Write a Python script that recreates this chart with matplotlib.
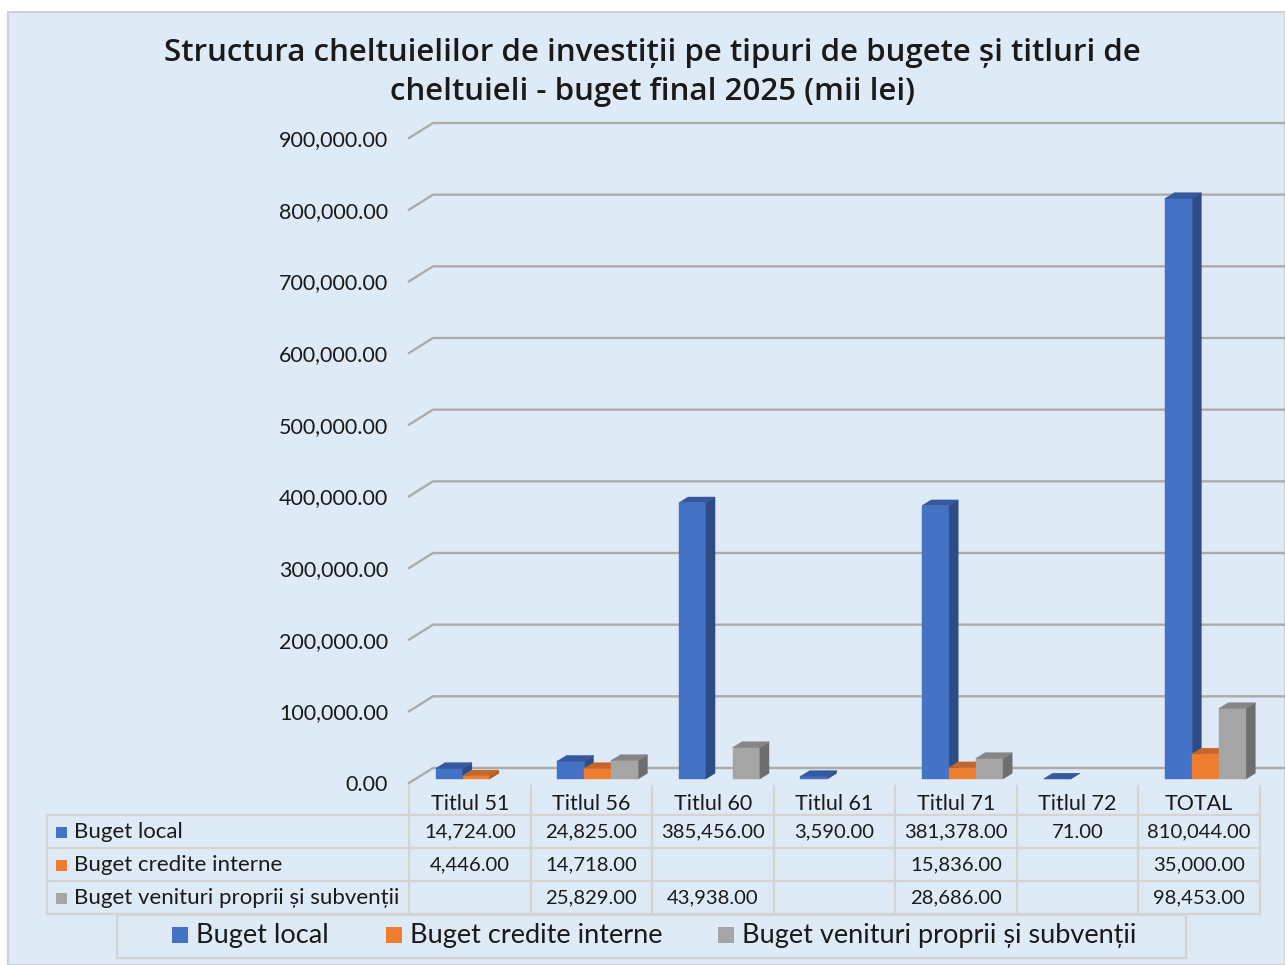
import matplotlib
matplotlib.use("Agg")
import matplotlib.pyplot as plt
from matplotlib import transforms
from matplotlib.patches import Polygon, Rectangle
from matplotlib.lines import Line2D
from matplotlib.ticker import FuncFormatter

plt.rcParams['font.family'] = ['Lato', 'DejaVu Sans']

# data (mii lei)
categories = ["Titlul 51", "Titlul 56", "Titlul 60", "Titlul 61", "Titlul 71", "Titlul 72", "TOTAL"]
series_names = ["Buget local", "Buget credite interne", "Buget venituri proprii și subvenții"]
buget_local = [14724.00, 24825.00, 385456.00, 3590.00, 381378.00, 71.00, 810044.00]
buget_credite_interne = [4446.00, 14718.00, None, None, 15836.00, None, 35000.00]
buget_venituri_proprii = [None, 25829.00, 43938.00, None, 28686.00, None, 98453.00]
y_ticks = [0, 100000, 200000, 300000, 400000, 500000, 600000, 700000, 800000, 900000]

title_lines = ["Structura cheltuielilor de investiții pe tipuri de bugete și titluri de",
               "cheltuieli - buget final 2025 (mii lei)"]

series = [buget_local, buget_credite_interne, buget_venituri_proprii]
# front, side, top
colors = [("#4472C4", "#2C4C86", "#34599E"),
          ("#ED7D31", "#B35A1E", "#C7662A"),
          ("#A5A5A5", "#6E6E6E", "#858585")]

W, H = 1285, 965
BG = "#DEEAF6"
GRID = "#ABABAB"
LINE = "#D4D4D4"
TXT = "#1a1a1a"
DEPTH = (24.0, 15.0)      # pixels, back wall offset
BAR_D = (0.27, 0.65)      # bar front / back depth fractions
BAR_W = 0.222


def fx(x):
    return x / W


def fy(y):
    return 1 - y / H


fig = plt.figure(figsize=(W / 100, H / 100), dpi=100)
fig.patch.set_facecolor("white")
fig.add_artist(Rectangle((fx(8), 0), 1 - fx(8), fy(12), transform=fig.transFigure,
                         facecolor=BG, edgecolor="#D0D0D0", linewidth=1.5, zorder=0))

for k, line in enumerate(title_lines):
    fig.text(fx(652), fy(53 + 39 * k), line, ha="center", va="center",
             fontsize=22.5, fontweight="semibold", family=["Open Sans", "DejaVu Sans"], color=TXT)

ax = fig.add_axes([fx(409), fy(783), (1260 - 409) / W, (783 - 138) / H])
ax.set_xlim(-0.5, len(categories) - 0.5)
ax.set_ylim(0, 900000)
ax.set_autoscale_on(False)
ax.patch.set_visible(False)
for s in ax.spines.values():
    s.set_visible(False)
ax.set_xticks([])
ax.set_yticks(y_ticks)
ax.yaxis.set_major_formatter(FuncFormatter(lambda v, p: f"{v:,.2f}"))
ax.tick_params(axis="y", length=0, pad=15, labelsize=15.5, labelcolor=TXT)

ident = transforms.IdentityTransform()


def to_disp(x, y, d):
    px, py = ax.transData.transform((x, y))
    return (px + d * DEPTH[0], py + d * DEPTH[1])


# back wall gridlines with the diagonal floor/wall edge
x_lo, x_hi = ax.get_xlim()
for v in y_ticks:
    pts = [to_disp(x_lo, v, 0), to_disp(x_lo, v, 1), to_disp(x_hi, v, 1)]
    ax.add_line(Line2D([p[0] for p in pts], [p[1] for p in pts], transform=ident,
                       color=GRID, linewidth=1.7, clip_on=False, zorder=0.5))

# 3d columns
front_tr = transforms.offset_copy(ax.transData, fig=fig, x=BAR_D[0] * DEPTH[0],
                                  y=BAR_D[0] * DEPTH[1], units="dots")
d0, d1 = BAR_D
for i in range(len(categories)):
    for j, vals in enumerate(series):
        v = vals[i]
        if v is None:
            continue
        xc = i + (j - 1) * BAR_W
        x0, x1 = xc - BAR_W / 2, xc + BAR_W / 2
        fc, sc, tc = colors[j]
        ax.bar(xc, v, BAR_W, color=fc, edgecolor=fc, linewidth=0.3,
               transform=front_tr, clip_on=False)
        side = [to_disp(x1, 0, d0), to_disp(x1, 0, d1), to_disp(x1, v, d1), to_disp(x1, v, d0)]
        top = [to_disp(x0, v, d0), to_disp(x1, v, d0), to_disp(x1, v, d1), to_disp(x0, v, d1)]
        ax.add_patch(Polygon(side, closed=True, transform=ident, facecolor=sc,
                             edgecolor=sc, linewidth=0.3, clip_on=False))
        ax.add_patch(Polygon(top, closed=True, transform=ident, facecolor=tc,
                             edgecolor=tc, linewidth=0.3, clip_on=False))

# data table under the plot
col_edges = [ax.transData.transform((i - 0.5, 0))[0] / W for i in range(len(categories) + 1)]
col_mid = [ax.transData.transform((i, 0))[0] / W for i in range(len(categories))]
tbl_left = fx(47)
row_lines = [815, 848, 881, 914]
row_mid = [832, 865, 898]


def fline(xs, ys):
    fig.add_artist(Line2D(xs, ys, transform=fig.transFigure, color=LINE, linewidth=1.6))


for xe in col_edges:
    fline([xe, xe], [fy(786), fy(914)])
fline([tbl_left, tbl_left], [fy(815), fy(914)])
for yl in row_lines:
    fline([tbl_left, col_edges[-1]], [fy(yl), fy(yl)])

for i, cat in enumerate(categories):
    fig.text(col_mid[i], fy(804), cat, ha="center", va="center", fontsize=15.5, color=TXT)

for j, name in enumerate(series_names):
    ym = row_mid[j]
    fig.add_artist(Rectangle((fx(56), fy(ym + 5.5)), 11 / W, 11 / H, transform=fig.transFigure,
                             facecolor=colors[j][0], edgecolor="none"))
    fig.text(fx(74), fy(ym), name, ha="left", va="center", fontsize=16, color=TXT)
    for i, v in enumerate(series[j]):
        if v is None:
            continue
        fig.text(col_mid[i], fy(ym), f"{v:,.2f}", ha="center", va="center",
                 fontsize=14.6, color=TXT)

# legend
fig.add_artist(Rectangle((fx(117), fy(958)), (1186 - 117) / W, (958 - 915) / H,
                         transform=fig.transFigure, facecolor="none", edgecolor=LINE, linewidth=1.6))
leg_marker_x = [172, 386, 718]
for j, name in enumerate(series_names):
    mx = leg_marker_x[j]
    fig.add_artist(Rectangle((fx(mx), fy(943)), 16 / W, 16 / H, transform=fig.transFigure,
                             facecolor=colors[j][0], edgecolor="none"))
    fig.text(fx(mx + 24), fy(935), name, ha="left", va="center", fontsize=19.5, color=TXT)

fig.savefig("out.png", dpi=100)
